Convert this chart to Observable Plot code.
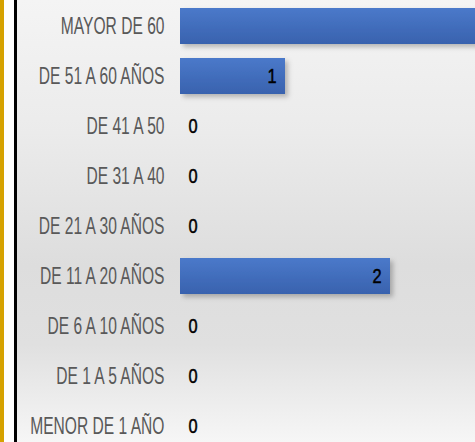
<!DOCTYPE html>
<html>
<head>
<meta charset="utf-8">
<script src="https://cdn.jsdelivr.net/npm/d3@7"></script>
<script src="https://cdn.jsdelivr.net/npm/@observablehq/plot@0.6"></script>
<style>
  html, body { margin: 0; padding: 0; background: #fff; }
  #wrap { position: relative; width: 475px; height: 442px; overflow: hidden; }
  #gold { position: absolute; left: 0; top: 0; width: 4px; height: 442px; background: #d6a200; }
  #black { position: absolute; left: 14px; top: 0; width: 3px; height: 442px; background: #000; }
  #bg { position: absolute; left: 17px; top: 0; width: 458px; height: 442px;
        background: linear-gradient(to bottom, #f4f4f4 0%, #ebebeb 30%, #dddddd 60%, #e0e0e0 78%, #f6f6f6 100%); }
  #chart { position: absolute; left: 0; top: 0; }
  #chart svg { background: transparent !important; overflow: hidden; }
</style>
</head>
<body>
<div id="wrap">
  <div id="gold"></div>
  <div id="black"></div>
  <div id="bg"></div>
  <div id="chart"></div>
</div>
<script>
const categories = ["MAYOR DE 60", "DE 51 A 60 AÑOS", "DE 41 A 50", "DE 31 A 40", "DE 21 A 30 AÑOS", "DE 11 A 20 AÑOS", "DE 6 A 10 AÑOS", "DE 1 A 5 AÑOS", "MENOR DE 1 AÑO"];
const values = [3, 1, 0, 0, 0, 2, 0, 0, 0];

const data = categories.map((c, i) => ({category: c, value: values[i]}));
const font = "'Liberation Sans', Arial, sans-serif";
const xMax = 295 / 105;

const plot = Plot.plot({
  width: 475,
  height: 442,
  marginLeft: 180,
  marginRight: 0,
  marginTop: 0,
  marginBottom: 0,
  style: {background: "transparent", fontFamily: font},
  x: {domain: [0, xMax], range: [180, 475], axis: null},
  y: {domain: categories, range: [-2.9, 453.9], paddingInner: 0.29, paddingOuter: 0.145, label: null},
  marks: [
    Plot.barX(data, {y: "category", x: "value", fill: "url(#barGrad)", filter: d => d.value > 0, clip: true}),
    Plot.text(data, {y: "category", x: "value", text: d => String(d.value), filter: d => d.value > 0 && d.value <= xMax,
      textAnchor: "end", dx: -9, fontSize: 20, fill: "#000", stroke: "#000", strokeWidth: 0.5}),
    Plot.text(data, {y: "category", x: 0, text: d => String(d.value), filter: d => d.value === 0,
      textAnchor: "start", dx: 8, fontSize: 20, fill: "#000", stroke: "#000", strokeWidth: 0.5}),
    Plot.axisY({tickSize: 0, tickPadding: 16, fontSize: 24, fill: "#595959", stroke: "#595959", strokeWidth: 0.6, label: null})
  ]
});

const svg = d3.select(plot);
const defs = svg.insert("defs", ":first-child");
const g = defs.append("linearGradient").attr("id", "barGrad").attr("x1", 0).attr("x2", 0).attr("y1", 0).attr("y2", 1);
g.append("stop").attr("offset", "0%").attr("stop-color", "#4a79ca");
g.append("stop").attr("offset", "100%").attr("stop-color", "#3962ae");
const f = defs.append("filter").attr("id", "shadow").attr("x", "-5%").attr("y", "-20%").attr("width", "115%").attr("height", "160%");
f.append("feDropShadow").attr("dx", 3).attr("dy", 3).attr("stdDeviation", 2.5).attr("flood-color", "#000").attr("flood-opacity", 0.25);
svg.selectAll("rect").filter(function() { return d3.select(this).attr("fill") === "url(#barGrad)" || this.parentNode.getAttribute("fill") === "url(#barGrad)"; })
  .attr("filter", "url(#shadow)");

// condense text horizontally (narrow font look)
function condense(sel, s) {
  sel.each(function() {
    const t = this.getAttribute("transform");
    if (t) {
      this.setAttribute("transform", t + ` scale(${s},1)`);
    } else {
      const x = +(this.getAttribute("x") || 0), y = +(this.getAttribute("y") || 0);
      this.removeAttribute("x"); this.removeAttribute("y");
      this.setAttribute("transform", `translate(${x},${y}) scale(${s},1)`);
    }
  });
}
condense(svg.selectAll('g[aria-label="y-axis tick label"] text'), 0.65);
condense(svg.selectAll('g[aria-label="text"] text'), 0.82);

document.getElementById("chart").appendChild(plot);
</script>
</body>
</html>
